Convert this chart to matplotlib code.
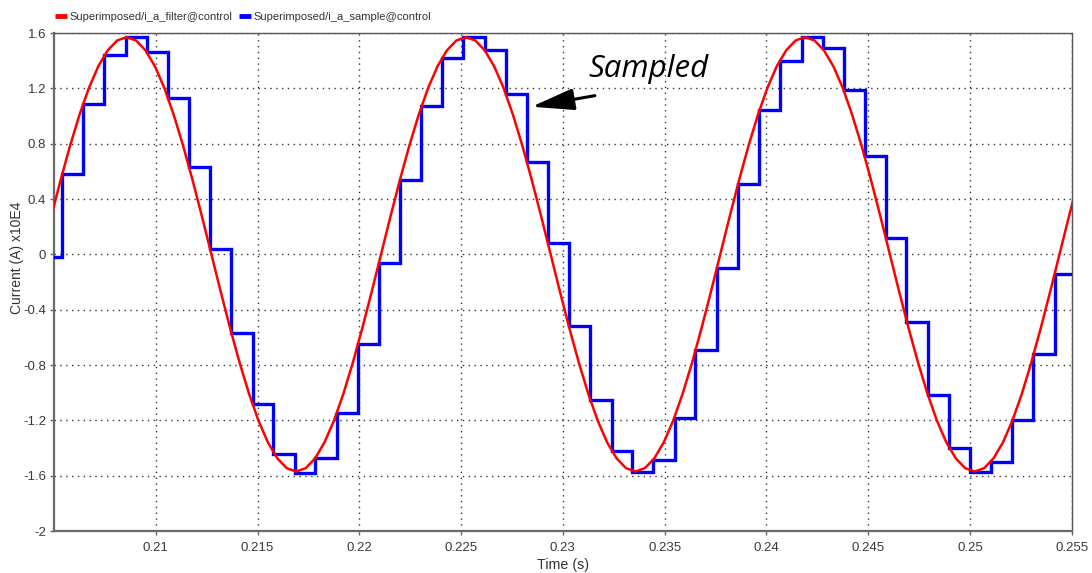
import matplotlib
matplotlib.use("Agg")
import matplotlib.pyplot as plt
from matplotlib.lines import Line2D

# ---- data ----
filter_time = [
    0.204400, 0.204863, 0.205326, 0.205789, 0.206252, 0.206715, 0.207178, 0.207641, 0.208104,
    0.208567, 0.209030, 0.209493, 0.209956, 0.210419, 0.210881, 0.211344, 0.211807, 0.212270,
    0.212733, 0.213196, 0.213659, 0.214122, 0.214585, 0.215048, 0.215511, 0.215974, 0.216437,
    0.216900, 0.217363, 0.217826, 0.218289, 0.218752, 0.219215, 0.219678, 0.220141, 0.220604,
    0.221067, 0.221530, 0.221993, 0.222456, 0.222919, 0.223382, 0.223845, 0.224308, 0.224771,
    0.225234, 0.225697, 0.226160, 0.226623, 0.227086, 0.227548, 0.228011, 0.228474, 0.228937,
    0.229400, 0.229863, 0.230326, 0.230789, 0.231252, 0.231715, 0.232178, 0.232641, 0.233104,
    0.233567, 0.234030, 0.234493, 0.234956, 0.235419, 0.235882, 0.236345, 0.236808, 0.237271,
    0.237733, 0.238196, 0.238659, 0.239122, 0.239585, 0.240048, 0.240511, 0.240974, 0.241437,
    0.241900, 0.242363, 0.242826, 0.243289, 0.243752, 0.244214, 0.244677, 0.245140, 0.245603,
    0.246066, 0.246529, 0.246992, 0.247455, 0.247918, 0.248381, 0.248844, 0.249307, 0.249770,
    0.250233, 0.250696, 0.251159, 0.251622, 0.252085, 0.252548, 0.253011, 0.253474, 0.253937,
    0.254400, 0.254863, 0.255326,
]
filter_current = [
    0.000, 0.273, 0.537, 0.785, 1.009, 1.203, 1.360, 1.475, 1.546,
    1.570, 1.546, 1.475, 1.360, 1.203, 1.009, 0.785, 0.537, 0.273,
    0.000, -0.273, -0.537, -0.785, -1.009, -1.203, -1.360, -1.475, -1.546,
    -1.570, -1.546, -1.475, -1.360, -1.203, -1.009, -0.785, -0.537, -0.273,
    0.000, 0.273, 0.537, 0.785, 1.009, 1.203, 1.360, 1.475, 1.546,
    1.570, 1.546, 1.475, 1.360, 1.203, 1.009, 0.785, 0.537, 0.273,
    0.000, -0.273, -0.537, -0.785, -1.009, -1.203, -1.360, -1.475, -1.546,
    -1.570, -1.546, -1.475, -1.360, -1.203, -1.009, -0.785, -0.537, -0.273,
    0.000, 0.273, 0.537, 0.785, 1.009, 1.203, 1.360, 1.475, 1.546,
    1.570, 1.546, 1.475, 1.360, 1.203, 1.009, 0.785, 0.537, 0.273,
    0.000, -0.273, -0.537, -0.785, -1.009, -1.203, -1.360, -1.475, -1.546,
    -1.570, -1.546, -1.475, -1.360, -1.203, -1.009, -0.785, -0.537, -0.273,
    0.000, 0.273, 0.537,
]

sample_time = [
    0.205000,
    0.205408, 0.206410, 0.207471, 0.208536, 0.209553, 0.210584, 0.211645, 0.212662,
    0.213693, 0.214759, 0.215771, 0.216822, 0.217834, 0.218885, 0.219946, 0.220978,
    0.221994, 0.223026, 0.224072, 0.225103, 0.226169, 0.227201, 0.228247, 0.229249,
    0.230310, 0.231326, 0.232392, 0.233404, 0.234436, 0.235487, 0.236499, 0.237550,
    0.238611, 0.239642, 0.240659, 0.241725, 0.242786, 0.243817, 0.244833, 0.245865,
    0.246882, 0.247943, 0.248974, 0.249991, 0.251057, 0.252087, 0.253105, 0.254166,
    0.255000,
]
sample_current = [
    -0.02,
    0.58, 1.09, 1.44, 1.57, 1.46, 1.13, 0.63, 0.04,
    -0.57, -1.08, -1.44, -1.58, -1.47, -1.15, -0.65, -0.06,
    0.54, 1.07, 1.42, 1.57, 1.48, 1.16, 0.67, 0.08,
    -0.52, -1.05, -1.42, -1.57, -1.49, -1.18, -0.69, -0.10,
    0.51, 1.04, 1.40, 1.57, 1.49, 1.19, 0.71, 0.12,
    -0.49, -1.02, -1.40, -1.57, -1.50, -1.20, -0.72, -0.14,
    -0.14,
]

x_ticks = [0.21, 0.215, 0.22, 0.225, 0.23, 0.235, 0.24, 0.245, 0.25, 0.255]
x_tick_labels = ["0.21", "0.215", "0.22", "0.225", "0.23", "0.235", "0.24", "0.245", "0.25", "0.255"]
y_ticks = [1.6, 1.2, 0.8, 0.4, 0.0, -0.4, -0.8, -1.2, -1.6, -2.0]
y_tick_labels = ["1.6", "1.2", "0.8", "0.4", "0", "-0.4", "-0.8", "-1.2", "-1.6", "-2"]

series_labels = ["Superimposed/i_a_filter@control", "Superimposed/i_a_sample@control"]

# ---- figure ----
plt.rcParams['font.family'] = ['Liberation Sans', 'DejaVu Sans']
W, H = 1092, 573
fig = plt.figure(figsize=(W / 100, H / 100), dpi=100)
ax = fig.add_axes([54 / W, 42 / H, (1071.7 - 54) / W, 498 / H])

ax.plot(sample_time, sample_current, drawstyle='steps-post', color='#0000ff',
        lw=2.4, solid_joinstyle='miter', zorder=3)
ax.plot(filter_time, filter_current, color='#ff0000', lw=1.8, zorder=4)

ax.set_xlim(0.205, 0.255)
ax.set_ylim(-2.0, 1.6)
ax.set_xticks(x_ticks)
ax.set_xticklabels(x_tick_labels)
ax.set_yticks(y_ticks)
ax.set_yticklabels(y_tick_labels)
ax.tick_params(axis='both', direction='out', length=3, width=1, color='#666666',
               labelsize=9.5, labelcolor='#3a3a3a')
ax.tick_params(axis='x', pad=5)
ax.tick_params(axis='y', pad=2.5)

ax.grid(True, color='#333333', linestyle=(0, (1, 3.2)), linewidth=1.0)
ax.set_axisbelow(True)

for side in ['left', 'bottom']:
    ax.spines[side].set_color('#6a6a6a')
    ax.spines[side].set_linewidth(1.6)
for side in ['top', 'right']:
    ax.spines[side].set_color('#555555')
    ax.spines[side].set_linewidth(1.0)

fig.text(17 / W, 1 - 258 / H, "Current (A) x10E4", rotation=90, ha='center', va='center',
         fontsize=10, color='#333333')
fig.text(563.5 / W, 1 - 565 / H, "Time (s)", ha='center', va='center',
         fontsize=10.3, color='#333333')

handles = [Line2D([], [], color='#ff0000', lw=3.5, solid_capstyle='butt'),
           Line2D([], [], color='#0000ff', lw=3.5, solid_capstyle='butt')]
leg = fig.legend(handles, series_labels, loc='center left', bbox_to_anchor=(55 / W, 1 - 16.7 / H),
                 ncol=2, frameon=False, fontsize=8, handlelength=1.05, handletextpad=0.25,
                 columnspacing=0.6, borderpad=0, borderaxespad=0)
for t in leg.get_texts():
    t.set_color('#333333')

# annotation
ax.annotate('', xy=(0.228463, 1.067), xytext=(0.231572, 1.147),
            arrowprops=dict(arrowstyle='-|>,head_length=1.3,head_width=0.33', color='black',
                            lw=2.2, mutation_scale=20, shrinkA=0, shrinkB=0), zorder=6)
ax.text(0.231277, 1.282, "Sampled", fontsize=22.5, style='italic',
        family=['Open Sans', 'DejaVu Sans'], ha='left', va='baseline', color='black', zorder=6)

fig.savefig("out.png", dpi=100)
